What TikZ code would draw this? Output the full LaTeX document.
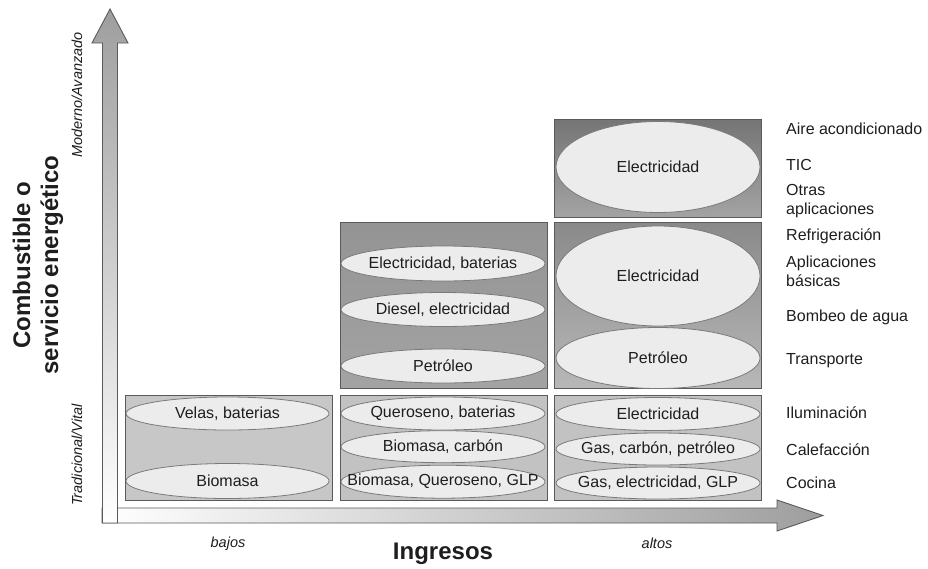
\documentclass[tikz,border=0pt]{standalone}
\usepackage{fontspec}
\setmainfont{Liberation Sans}
\usetikzlibrary{shapes.geometric}
\definecolor{txt}{HTML}{1E1E1E}
\definecolor{edge}{HTML}{5A5A5A}
\definecolor{ellfill}{HTML}{ECECEC}
\definecolor{elledge}{HTML}{7A7A7A}
\begin{document}
\begin{tikzpicture}[x=1pt,y=-1pt,
  every node/.style={font=\fontsize{16}{19}\selectfont, text=txt},
  box/.style={draw=edge, line width=1.1pt, anchor=north west, inner sep=0pt},
  ell/.style={ellipse, draw=elledge, line width=0.8pt, fill=ellfill, inner sep=0pt},
  side/.style={anchor=west, align=left, inner sep=0pt},
  ax/.style={font=\fontsize{14.5}{17}\selectfont\itshape},
  bigt/.style={font=\fontsize{24}{28}\selectfont\bfseries},
  arr/.style={draw=edge, line width=0.9pt}
]
\useasboundingbox[fill=white] (0,0) rectangle (928,568);

% axes arrows
\path[arr, left color=white, right color=black!38]
  (102,508) -- (777,508) -- (777,500) -- (823,515.5) -- (777,531) -- (777,523) -- (102,523) -- cycle;
\path[arr, top color=black!38, bottom color=white]
  (102.5,523) -- (102.5,43) -- (92,43) -- (110,9) -- (128,43) -- (117.5,43) -- (117.5,523) -- cycle;

% boxes
\node[box, fill=black!22, minimum width=207, minimum height=105] (b11) at (125,395) {};
\node[box, fill=black!24, minimum width=207, minimum height=105] (b12) at (340,395) {};
\node[box, fill=black!24, minimum width=207, minimum height=105] (b13) at (554,395) {};
\node[box, top color=black!42, bottom color=black!36, minimum width=207, minimum height=166] (b22) at (340,222) {};
\node[box, top color=black!46, bottom color=black!28, minimum width=207, minimum height=166] (b23) at (554,222) {};
\node[box, top color=black!54, bottom color=black!36, minimum width=207, minimum height=98] (b33) at (554,119) {};

% column 1
\node[ell, minimum width=203, minimum height=33, label={center:Velas, baterias}] (e11a) at (227.5,413.5) {};
\node[ell, minimum width=203, minimum height=35, label={center:Biomasa}] (e11b) at (227.5,481) {};
% column 2
\node[ell, minimum width=204, minimum height=33, label={center:Queroseno, baterias}] (e12a) at (443,413.5) {};
\node[ell, minimum width=204, minimum height=32, label={center:Biomasa, carbón}] (e12b) at (443,446.7) {};
\node[ell, minimum width=204, minimum height=33, label={center:Biomasa, Queroseno, GLP}] (e12c) at (443,481.7) {};
\node[ell, minimum width=204, minimum height=35, label={center:Electricidad, baterias}] (e22a) at (443,263.5) {};
\node[ell, minimum width=204, minimum height=34, label={center:Diesel, electricidad}] (e22b) at (443,309.5) {};
\node[ell, minimum width=204, minimum height=34, label={center:Petróleo}] (e22c) at (443,366) {};
% column 3
\node[ell, minimum width=204, minimum height=33, label={center:Electricidad}] (e13a) at (658,414) {};
\node[ell, minimum width=204, minimum height=32, label={center:Gas, carbón, petróleo}] (e13b) at (658,449) {};
\node[ell, minimum width=204, minimum height=32, label={center:Gas, electricidad, GLP}] (e13c) at (658,483) {};
\node[ell, minimum width=204, minimum height=100, label={center:Electricidad}] (e23a) at (658,276) {};
\node[ell, minimum width=204, minimum height=61, label={center:Petróleo}] (e23b) at (658,358) {};
\node[ell, minimum width=204, minimum height=91, label={center:Electricidad}] (e33) at (658,167) {};

% right labels
\node[side] (l1) at (786,129) {Aire acondicionado};
\node[side] (l2) at (786,165) {TIC};
\node[side] (l3) at (786,201.5) {Otras\\aplicaciones};
\node[side] (l4) at (786,236.5) {Refrigeración};
\node[side] (l5) at (786,271.5) {Aplicaciones\\básicas};
\node[side] (l6) at (786,317) {Bombeo de agua};
\node[side] (l7) at (786,360.5) {Transporte};
\node[side] (l8) at (786,412.5) {Iluminación};
\node[side] (l9) at (786,450) {Calefacción};
\node[side] (l10) at (786,482.5) {Cocina};

% axis labels
\node[ax, rotate=90] (mod) at (77,95) {Moderno/Avanzado};
\node[ax, rotate=90] (trad) at (77,455) {Tradicional/Vital};
\node[bigt, rotate=90, align=center] (ytitle) at (38,265) {Combustible o\\servicio energético};
\node[ax] (bajos) at (228,544) {bajos};
\node[ax] (altos) at (657,543) {altos};
\node[bigt] (xtitle) at (443,554) {Ingresos};
\end{tikzpicture}
\end{document}
